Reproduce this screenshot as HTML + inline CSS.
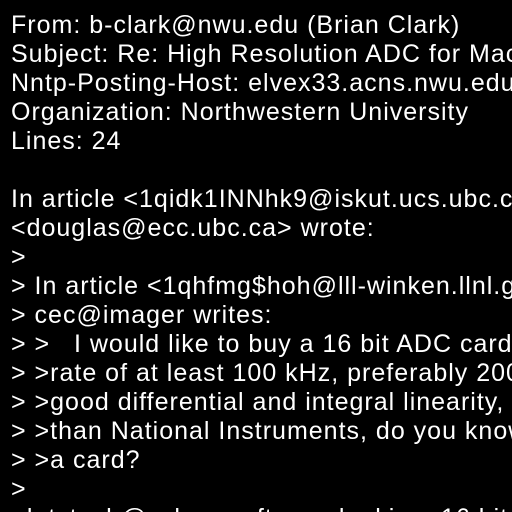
<!DOCTYPE html>
<html><head><style>
html,body{margin:0;padding:0;background:#000;width:512px;height:512px;overflow:hidden;position:relative}
pre{margin:0;position:absolute;left:11px;top:11px;width:501px;height:501px;overflow:hidden;font-family:"Liberation Sans",Arial,sans-serif;font-size:25px;line-height:29px;letter-spacing:1px;color:#fff;white-space:pre}
</style></head><body>
<pre>From: b-clark@nwu.edu (Brian Clark)
Subject: Re: High Resolution ADC for Mac II
Nntp-Posting-Host: elvex33.acns.nwu.edu
Organization: Northwestern University
Lines: 24

In article &lt;1qidk1INNhk9@iskut.ucs.ubc.ca&gt;,
&lt;douglas@ecc.ubc.ca&gt; wrote:
&gt;
&gt; In article &lt;1qhfmg$hoh@lll-winken.llnl.gov&gt;,
&gt; cec@imager writes:
&gt; &gt;   I would like to buy a 16 bit ADC card
&gt; &gt;rate of at least 100 kHz, preferably 200
&gt; &gt;good differential and integral linearity, and
&gt; &gt;than National Instruments, do you know
&gt; &gt;a card?
&gt;
  lotstech@ wheresoftware looking  16 bit</pre>
</body></html>
